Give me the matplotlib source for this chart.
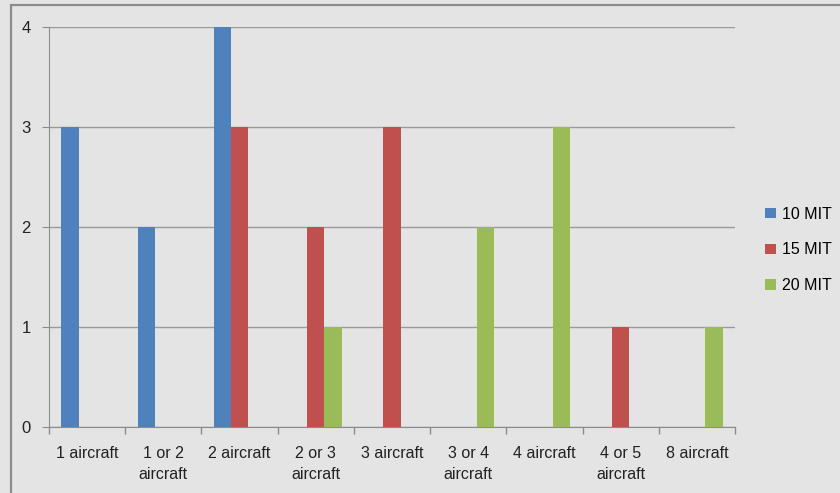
import numpy as np
import matplotlib
matplotlib.use('Agg')
import matplotlib.pyplot as plt
from matplotlib.patches import Rectangle

categories = ['1 aircraft', '1 or 2\naircraft', '2 aircraft', '2 or 3\naircraft', '3 aircraft',
              '3 or 4\naircraft', '4 aircraft', '4 or 5\naircraft', '8 aircraft']
mit10 = [3, 2, 4, 0, 0, 0, 0, 0, 0]
mit15 = [0, 0, 3, 2, 3, 0, 0, 1, 0]
mit20 = [0, 0, 0, 1, 0, 2, 3, 0, 1]
series_names = ['10 MIT', '15 MIT', '20 MIT']
colors = ['#4F81BD', '#C0504D', '#9BBB59']

plt.rcParams['font.family'] = ['Liberation Sans', 'DejaVu Sans']
bg = '#E4E4E4'

fig = plt.figure(figsize=(8.4, 4.93), dpi=100, facecolor=bg)
ax = fig.add_axes([49 / 840, 1 - 427 / 493, (735 - 49) / 840, 400 / 493])
ax.set_facecolor(bg)

x = np.arange(len(categories))
w = 0.225
for i, (vals, name, c) in enumerate(zip([mit10, mit15, mit20], series_names, colors)):
    ax.bar(x + (i - 1) * w, vals, width=w, color=c, label=name, zorder=3)

ax.set_xlim(-0.5, len(categories) - 0.5)
ax.set_ylim(0, 4)
ax.set_yticks([0, 1, 2, 3, 4])
ax.yaxis.grid(True, color='#9a9a9a', linewidth=1, zorder=0)
ax.set_xticks(x)
ax.set_xticklabels(categories, fontsize=11.5, color='#222222', linespacing=1.5)
ax.set_xticks(np.arange(len(categories) + 1) - 0.5, minor=True)
ax.tick_params(axis='x', which='major', length=0, pad=14)
ax.tick_params(axis='x', which='minor', length=5, color='#8c8c8c', width=1)
ax.tick_params(axis='y', length=5, color='#8c8c8c', labelsize=12, labelcolor='#222222', pad=8)
for s in ['top', 'right']:
    ax.spines[s].set_visible(False)
for s in ['left', 'bottom']:
    ax.spines[s].set_color('#8c8c8c')

fig.legend(loc='center left', bbox_to_anchor=(0.894, 0.493), frameon=False, fontsize=11.5,
           handlelength=0.65, handleheight=0.65, handletextpad=0.4, labelspacing=1.3)

# outer chart border
fig.patches.append(Rectangle((11 / 840, -0.1), 1.2, 1 - 5 / 493 + 0.1, transform=fig.transFigure,
                             fill=False, edgecolor='#8c8c8c', linewidth=1.6))

fig.savefig('out.png', dpi=100, facecolor=bg)
